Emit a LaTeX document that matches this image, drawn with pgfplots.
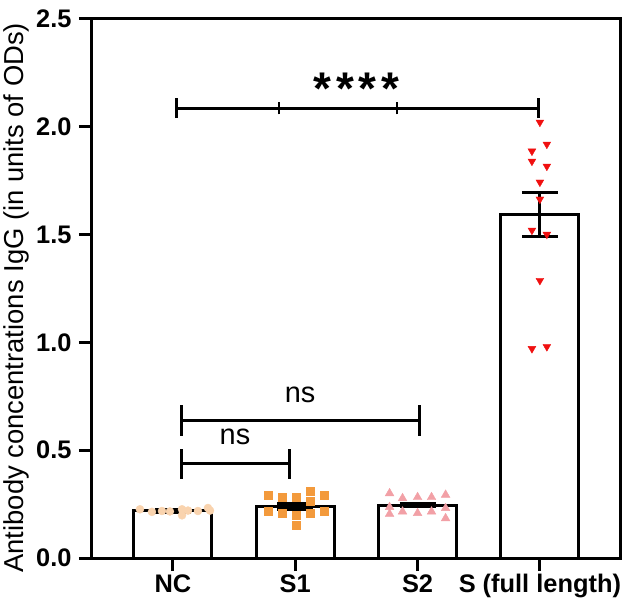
\documentclass[border=0pt]{standalone}
\usepackage{fontspec}
\setmainfont{Liberation Sans}
\usepackage{pgfplots}
\pgfplotsset{compat=1.18}
\definecolor{ncc}{HTML}{F9D3AE}
\definecolor{sonec}{HTML}{F39A3C}
\definecolor{stwoc}{HTML}{F2A0A6}
\definecolor{sfullc}{HTML}{F01010}
\begin{document}
\begin{tikzpicture}
\begin{axis}[
  scale only axis, width=528bp, height=539bp,
  xmin=-0.662, xmax=3.655, ymin=0, ymax=2.5,
  axis line style={line width=3bp},
  every tick/.style={black, line width=3bp},
  major tick length=13bp,
  tick align=outside,
  xtick={0,1,2,3}, xticklabels={NC,S1,S2,S (full length)},
  ytick={0,0.5,...,2.5},
  xtick pos=left, ytick pos=left,
  yticklabel style={xshift=-4bp, /pgf/number format/.cd, fixed, fixed zerofill, precision=1},
  /pgf/number format/assume math mode=true,
  tick label style={font=\fontsize{25.5}{28}\selectfont\bfseries},
  ylabel={Antibody concentrations IgG (in units of ODs)},
  ylabel style={font=\fontsize{27.5}{30}\selectfont, at={(axis description cs:-0.144,0.483)}, anchor=center},
]
\coordinate (BL) at (rel axis cs:0,0);
\coordinate (TR) at (rel axis cs:1,1);
% bars (means)
\addplot[ybar, bar width=0.638, fill=white, draw=black, line width=3bp, forget plot]
  coordinates {(0,0.218) (1,0.238) (2,0.245) (3,1.593)};
% NC
\addplot[only marks, mark=*, mark size=4bp, color=ncc, mark options={draw=ncc, fill=ncc}]
  coordinates {(-0.270,0.226) (-0.172,0.214) (-0.090,0.218) (-0.025,0.216) (0.074,0.226)
               (0.074,0.198) (0.123,0.220) (0.204,0.218) (0.286,0.232) (0.303,0.220)};
% S1
\addplot[only marks, mark=square*, mark size=4bp, color=sonec, mark options={draw=sonec, fill=sonec}]
  coordinates {(0.779,0.290) (0.894,0.280) (1.008,0.280) (1.123,0.311) (1.237,0.290) (1.123,0.262)
               (0.779,0.218) (0.894,0.208) (1.008,0.200) (1.123,0.208) (1.237,0.218) (1.008,0.150)};
% S2
\addplot[only marks, mark=triangle*, mark size=5bp, color=stwoc, mark options={draw=stwoc, fill=stwoc}]
  coordinates {(1.771,0.300) (1.877,0.277) (2.000,0.282) (2.114,0.282) (2.229,0.293) (1.771,0.236)
               (1.771,0.204) (1.877,0.215) (2.000,0.208) (2.114,0.215) (2.229,0.231) (2.229,0.184)};
% S full length
\addplot[only marks, mark=triangle*, mark size=4.5bp, color=sfullc, mark options={draw=sfullc, fill=sfullc, rotate=180}]
  coordinates {(3.000,2.021) (3.057,1.919) (2.935,1.887) (2.935,1.840) (3.057,1.817) (3.000,1.743)
               (3.000,1.664) (2.935,1.520) (3.057,1.501) (3.000,1.287) (2.935,0.971) (3.057,0.980)};
% error bars (SEM)
\addplot[draw=none, mark=none, forget plot,
  error bars/.cd, y dir=both, y explicit,
  error bar style={draw=black, line width=3bp},
  error mark options={draw=black, rotate=90, mark size=18bp, line width=3bp}]
  coordinates {(0,0.218) +- (0,0.005) (1,0.238) +- (0,0.015) (2,0.245) +- (0,0.008) (3,1.593) +- (0,0.102)};
% significance brackets
\draw[line width=3bp] (axis cs:0.025,2.086) -- (axis cs:2.985,2.086);
\draw[line width=3bp] (axis cs:0.025,2.040) -- (axis cs:0.025,2.132);
\draw[line width=3bp] (axis cs:2.985,2.040) -- (axis cs:2.985,2.132);
\draw[line width=2bp] (axis cs:0.867,2.058) -- (axis cs:0.867,2.114);
\draw[line width=2bp] (axis cs:1.832,2.058) -- (axis cs:1.832,2.114);
\node[anchor=base, inner sep=0pt] at (axis cs:1.5,2.105) {\fontsize{46}{46}\selectfont\bfseries *\kern4.7bp*\kern4.7bp*\kern4.7bp*};
\draw[line width=3bp] (axis cs:0.07,0.638) -- (axis cs:2.014,0.638);
\draw[line width=3bp] (axis cs:0.07,0.568) -- (axis cs:0.07,0.708);
\draw[line width=3bp] (axis cs:2.014,0.568) -- (axis cs:2.014,0.708);
\node[font=\fontsize{29}{30}\selectfont] at (axis cs:1.04,0.757) {ns};
\draw[line width=3bp] (axis cs:0.07,0.437) -- (axis cs:0.951,0.437);
\draw[line width=3bp] (axis cs:0.07,0.367) -- (axis cs:0.07,0.507);
\draw[line width=3bp] (axis cs:0.951,0.367) -- (axis cs:0.951,0.507);
\node[font=\fontsize{29}{30}\selectfont] at (axis cs:0.507,0.564) {ns};
\end{axis}
\pgfresetboundingbox
\path ([shift={(-92bp,-53bp)}]BL) rectangle ([shift={(10bp,19bp)}]TR);
\end{tikzpicture}
\end{document}
